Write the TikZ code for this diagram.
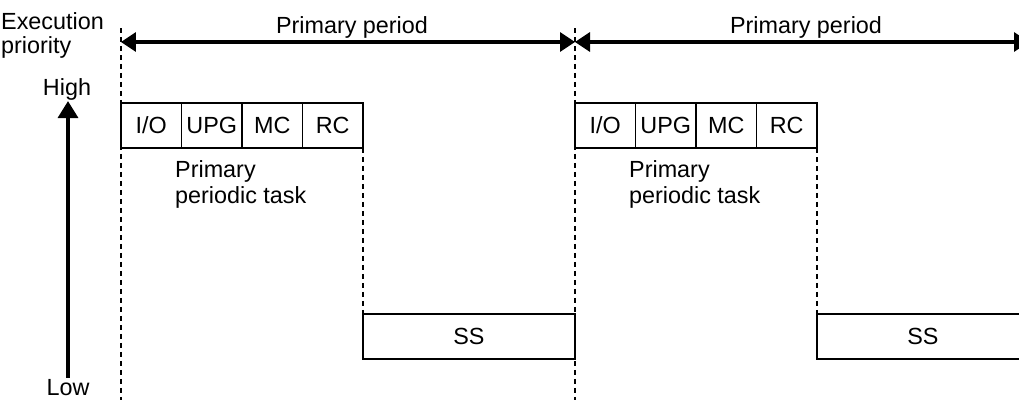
\documentclass[tikz,border=0pt]{standalone}
\usepackage{fontspec}
\setmainfont{Liberation Sans}
\usetikzlibrary{arrows.meta, positioning}

\begin{document}
\begin{tikzpicture}[x=0.02cm, y=-0.02cm,
  every node/.style={font=\fontsize{13.3}{14}\selectfont},
  task/.style={draw, line width=0.8pt, minimum width=1.21cm, minimum height=0.9cm, inner sep=0pt, outer sep=0pt},
  guide/.style={line width=0.7pt, dash pattern=on 0.1cm off 0.08cm},
  span/.style={line width=1.8pt, {Triangle[length=0.3cm,width=0.38cm]}-{Triangle[length=0.3cm,width=0.38cm]}}]
\useasboundingbox (0,0) rectangle (1019,400);

% Define nodes
\path (-5,53) node[anchor=base west, align=left, font=\fontsize{13.3}{13.6}\selectfont] (prio) {Execution\\priority}
(67,95) node[anchor=base] (high) {High}
(68,395) node[anchor=base] (low) {Low}
;
\draw[line width=2pt, -{Triangle[length=0.34cm,width=0.4cm]}, shorten <=-0.1cm, shorten >=-0.1cm]
(low.north) -- (low.north |- high.south);

\foreach \i/\dx in {1/0, 2/454} {
  \coordinate (top\i) at (121+\dx,28);
  \coordinate (bot\i) at (121+\dx,400);
  \coordinate (a\i) at (121+\dx,42);
  \coordinate (b\i) at (575+\dx,42);
  \coordinate (sstop\i) at (0,314);
  \node[task, anchor=north west] (io\i) at (121+\dx,103) {I/O};
  \node[task, right=0pt of io\i] (upg\i) {UPG};
  \node[task, right=0pt of upg\i] (mc\i) {MC};
  \node[task, right=0pt of mc\i] (rc\i) {RC};
  \node[task, minimum width=4.24cm, anchor=north west] (ss\i) at (rc\i.south east |- sstop\i) {SS};
  \node[anchor=base west, align=left, font=\fontsize{13.3}{14.7}\selectfont] (ppt\i) at (169+\dx,203) {Primary\\periodic task};
  \node[anchor=base] (pp\i) at (352+\dx,33) {Primary period};
  \draw[guide] (top\i) -- (bot\i);
  \draw[guide] (rc\i.south east) -- (ss\i.north west);
  \draw[span] (a\i) -- (b\i);
}
\end{tikzpicture}
\end{document}
